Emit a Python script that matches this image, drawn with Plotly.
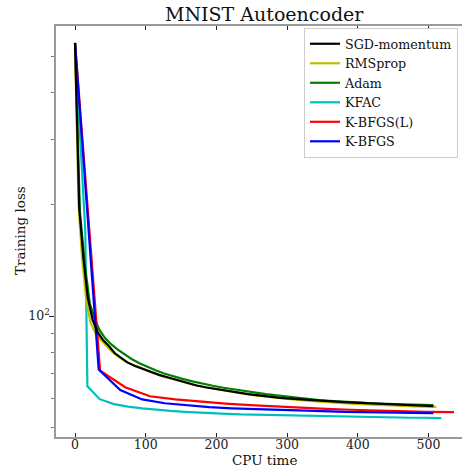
import plotly.graph_objects as go

# ---- data ----
sgd_x = [0, 6, 12, 18, 25, 32, 40, 48, 56, 65, 74, 84, 96, 108, 120, 132, 145, 158, 172, 186,
         200, 215, 230, 245, 260, 275, 290, 305, 320, 335, 350, 365, 380, 395, 410, 425, 440, 455, 470, 485,
         500, 507]
sgd_y = [545, 195, 143, 112, 97.5, 90.5, 86, 83, 79.5, 77, 75, 73.5, 72, 70.5, 69.3, 68.3, 67.2, 66, 65, 64.2,
         63.5, 62.8, 62.2, 61.6, 61.1, 60.6, 60.2, 59.9, 59.6, 59.3, 59.1, 58.8, 58.6, 58.4, 58.2, 58.0, 57.9, 57.7, 57.6, 57.4,
         57.3, 57.2]

rms_x = [0, 5, 10, 16, 22, 29, 36, 44, 52, 61, 70, 80, 91, 102, 114, 126, 139, 152, 166, 180,
         195, 210, 225, 240, 255, 270, 285, 300, 315, 330, 345, 360, 375, 390, 405, 420, 435, 450, 465, 480,
         495, 511]
rms_y = [545, 200, 143, 110, 96, 90, 86.5, 83.3, 80.3, 77.8, 75.8, 74.1, 72.6, 71.1, 69.8, 68.6, 67.5, 66.4, 65.4, 64.6,
         63.8, 63.0, 62.3, 61.7, 61.1, 60.6, 60.2, 59.8, 59.4, 59.1, 58.8, 58.5, 58.3, 58.1, 57.9, 57.7, 57.5, 57.4, 57.3, 57.1,
         57.0, 56.9]

adam_x = [0, 7, 14, 21, 28, 35, 43, 51, 60, 70, 80, 91, 102, 114, 126, 139, 152, 166, 180, 195,
          210, 225, 240, 255, 270, 285, 300, 315, 330, 345, 360, 375, 390, 405, 420, 435, 450, 465, 480, 495,
          507]
adam_y = [545, 190, 137, 108, 98, 91.5, 87, 84, 81.3, 78.8, 76.6, 74.6, 72.9, 71.4, 70.0, 68.8, 67.7, 66.7, 65.7, 64.9,
          64.1, 63.4, 62.8, 62.2, 61.6, 61.1, 60.6, 60.2, 59.8, 59.4, 59.1, 58.8, 58.6, 58.4, 58.2, 58.0, 57.9, 57.8, 57.7, 57.6,
          57.5]

kfac_x = [0, 14.5, 17.5, 35, 55, 75, 95, 115, 135, 155, 175, 195, 215, 235, 255, 275, 295, 315, 335, 355,
          375, 395, 415, 435, 455, 475, 495, 518]
kfac_y = [545, 170, 64.7, 59.7, 57.9, 57.0, 56.4, 55.9, 55.5, 55.2, 54.9, 54.7, 54.5, 54.3, 54.2, 54.0, 53.9, 53.8, 53.7, 53.6,
          53.5, 53.4, 53.4, 53.3, 53.3, 53.2, 53.2, 53.1]

kbfgsl_x = [0, 35.5, 71, 106, 142, 177, 213, 248, 284, 319, 355, 390, 426, 461, 497, 536]
kbfgsl_y = [545, 71.3, 64.3, 60.8, 59.6, 58.8, 58.1, 57.5, 57.0, 56.6, 56.2, 55.9, 55.6, 55.4, 55.2, 55.1]

kbfgs_x = [0, 33.5, 64, 95, 127, 159, 190, 222, 254, 286, 318, 350, 382, 414, 446, 478, 507]
kbfgs_y = [545, 71.8, 63.2, 59.6, 58.2, 57.4, 56.8, 56.4, 56.1, 55.8, 55.6, 55.4, 55.2, 55.0, 54.9, 54.8, 54.7]

series = [
    ("SGD-momentum", sgd_x, sgd_y, "#000000", 1),
    ("RMSprop", rms_x, rms_y, "#bfbf00", 2),
    ("Adam", adam_x, adam_y, "#008000", 3),
    ("KFAC", kfac_x, kfac_y, "#00bfbf", 4),
    ("K-BFGS(L)", kbfgsl_x, kbfgsl_y, "#ff0000", 5),
    ("K-BFGS", kbfgs_x, kbfgs_y, "#0000ff", 6),
]
draw_order = [3, 2, 1, 4, 5, 0]

FONT = "DejaVu Serif"
W, H = 462, 467
L, R, T, B = 56, 0, 26, 30

fig = go.Figure()
for i in draw_order:
    name, xs, ys, col, rank = series[i]
    fig.add_trace(go.Scatter(x=xs, y=ys, mode="lines", name=name,
                             line=dict(color=col, width=2.2), legendrank=rank))

pw = W - L - R
ph = H - T - B

fig.update_layout(
    width=W, height=H,
    margin=dict(l=L, r=R, t=T, b=B, pad=0),
    paper_bgcolor="white", plot_bgcolor="white",
    font=dict(family=FONT, size=13, color="#222222"),
    showlegend=True,
    legend=dict(x=(304 - L) / pw, y=(H - B - 28) / ph, xanchor="left", yanchor="top",
                bordercolor="#cccccc", borderwidth=1, bgcolor="rgba(255,255,255,0.9)",
                font=dict(family=FONT, size=12.7, color="#111111"),
                tracegroupgap=0, itemwidth=30),
    xaxis=dict(range=[-26.9, 547.4], showgrid=False, zeroline=False,
               showline=True, linecolor="#9a9a9a", linewidth=1.5, mirror="ticks",
               ticks="inside", ticklen=4, tickwidth=1.3, tickcolor="#222222",
               tickvals=[0, 100, 200, 300, 400, 500], ticklabelstandoff=-5,
               tickfont=dict(family=FONT, size=12.5, color="#222222")),
    yaxis=dict(type="log", range=[1.674, 2.782], showgrid=False, zeroline=False,
               showline=True, linecolor="#9a9a9a", linewidth=1.5, mirror=False,
               ticks="outside", ticklen=5, tickwidth=1.3, tickcolor="#222222",
               tickvals=[100], ticktext=["10<sup>2</sup>"], ticklabelstandoff=-3,
               tickfont=dict(family=FONT, size=12.5, color="#222222"),
               minor=dict(tickvals=[50, 60, 70, 80, 90, 200, 300, 400, 500],
                          ticks="outside", ticklen=3, tickwidth=1, tickcolor="#777777",
                          showgrid=False)),
)

fig.add_annotation(text="MNIST Autoencoder", xref="paper", yref="paper",
                   x=(264 - L) / pw, y=(H - B - 14) / ph, xanchor="center", yanchor="middle",
                   showarrow=False, font=dict(family=FONT, size=19, color="#111111"))
fig.add_annotation(text="CPU time", xref="paper", yref="paper",
                   x=(264 - L) / pw, y=(H - B - 460) / ph, xanchor="center", yanchor="middle",
                   showarrow=False, font=dict(family=FONT, size=13.5, color="#111111"))
fig.add_annotation(text="Training loss", xref="paper", yref="paper", textangle=-90,
                   x=(20 - L) / pw, y=(H - B - 231) / ph, xanchor="center", yanchor="middle",
                   showarrow=False, font=dict(family=FONT, size=13.5, color="#111111"))

fig.write_html("out.html")
